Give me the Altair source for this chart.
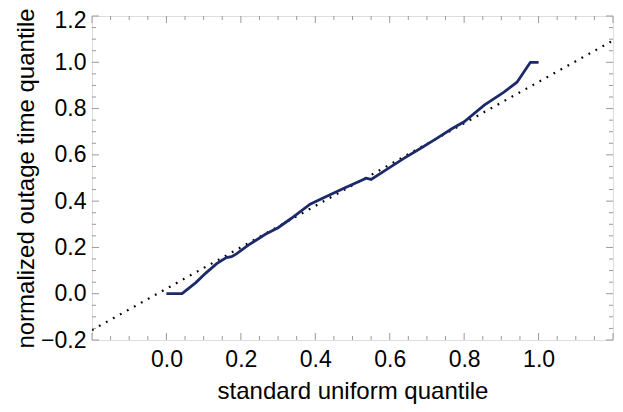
import altair as alt
import pandas as pd
import numpy as np

# empirical quantile curve
qx = [0.0, 0.042, 0.079, 0.105, 0.135, 0.161, 0.175, 0.188, 0.22, 0.267, 0.30, 0.335,
      0.386, 0.431, 0.48, 0.537, 0.55, 0.59, 0.638, 0.68, 0.72, 0.767, 0.80, 0.854,
      0.907, 0.942, 0.96, 0.978, 1.0]
qy = [0.0, 0.0, 0.048, 0.088, 0.13, 0.156, 0.16, 0.172, 0.21, 0.258, 0.285, 0.325,
      0.387, 0.421, 0.458, 0.499, 0.494, 0.535, 0.585, 0.625, 0.665, 0.713, 0.743, 0.815,
      0.871, 0.914, 0.957, 1.0, 1.0]

# reference (fitted) line endpoints
ref_x = [-0.2, 1.2]
ref_y = [-0.157, 1.094]

x_labels = [0.0, 0.2, 0.4, 0.6, 0.8, 1.0]
y_labels = [-0.2, 0.0, 0.2, 0.4, 0.6, 0.8, 1.0, 1.2]

x_major = [-0.2, 0.0, 0.2, 0.4, 0.6, 0.8, 1.0, 1.2]
y_major = [-0.2, 0.0, 0.2, 0.4, 0.6, 0.8, 1.0, 1.2]
minor_all = [round(v, 2) for v in np.arange(-0.15, 1.2, 0.05)]
x_minor = [v for v in minor_all if round(v / 0.2, 6) != round(v / 0.2)]
y_minor = x_minor

W, H = 521, 324
FRAME = "#9a9a9a"
FONT = "Liberation Sans"

xs = alt.Scale(domain=[-0.2, 1.2], nice=False, zero=False)
ys = alt.Scale(domain=[-0.2, 1.2], nice=False, zero=False)

curve_df = pd.DataFrame({"x": qx, "y": qy})
ref_df = pd.DataFrame({"x": ref_x, "y": ref_y})

xaxis = alt.Axis(values=x_labels, format=".1f", ticks=False, domain=False, grid=False,
                 labelFontSize=23, labelPadding=8, titleFontSize=24, titlePadding=8,
                 labelColor="black", titleColor="black", labelFont=FONT, titleFont=FONT,
                 titleFontWeight="normal")
yaxis = alt.Axis(values=y_labels, format=".1f", ticks=False, domain=False, grid=False,
                 labelFontSize=23, labelPadding=6, titleFontSize=24, titlePadding=2,
                 labelOffset={"condition": {"test": "datum.value > 1.15", "value": 4}, "value": 0},
                 labelColor="black", titleColor="black", labelFont=FONT, titleFont=FONT,
                 titleFontWeight="normal")

ref = alt.Chart(ref_df).mark_line(color="black", strokeWidth=2.2, strokeDash=[1.8, 6.2],
                                  clip=True).encode(
    x=alt.X("x:Q", scale=xs, axis=xaxis, title="standard uniform quantile"),
    y=alt.Y("y:Q", scale=ys, axis=yaxis, title="normalized outage time quantile"),
)

curve = alt.Chart(curve_df).mark_line(color="#1c2a6b", strokeWidth=2.8).encode(
    x=alt.X("x:Q", scale=xs),
    y=alt.Y("y:Q", scale=ys),
)

def xticks(vals, length):
    d = pd.DataFrame({"v": vals})
    bottom = alt.Chart(d).mark_rule(color=FRAME, strokeWidth=1).encode(
        x=alt.X("v:Q", scale=xs), y=alt.value(H), y2=alt.value(H - length))
    top = alt.Chart(d).mark_rule(color=FRAME, strokeWidth=1).encode(
        x=alt.X("v:Q", scale=xs), y=alt.value(0), y2=alt.value(length))
    return [bottom, top]

def yticks(vals, length):
    d = pd.DataFrame({"v": vals})
    left = alt.Chart(d).mark_rule(color=FRAME, strokeWidth=1).encode(
        y=alt.Y("v:Q", scale=ys), x=alt.value(0), x2=alt.value(length))
    right = alt.Chart(d).mark_rule(color=FRAME, strokeWidth=1).encode(
        y=alt.Y("v:Q", scale=ys), x=alt.value(W), x2=alt.value(W - length))
    return [left, right]

layers = [ref] + xticks(x_major, 7) + xticks(x_minor, 4) + yticks(y_major, 7) + yticks(y_minor, 4) + [curve]

chart = alt.layer(*layers).properties(
    width=W, height=H,
    autosize=alt.AutoSizeParams(type="none"),
    padding={"left": 84, "top": 8, "right": 2, "bottom": 64},
).configure_view(
    stroke=FRAME, strokeWidth=1
).configure(
    font=FONT, background="white"
)

chart.save("out.html", embed_options={"renderer": "svg", "actions": False})
